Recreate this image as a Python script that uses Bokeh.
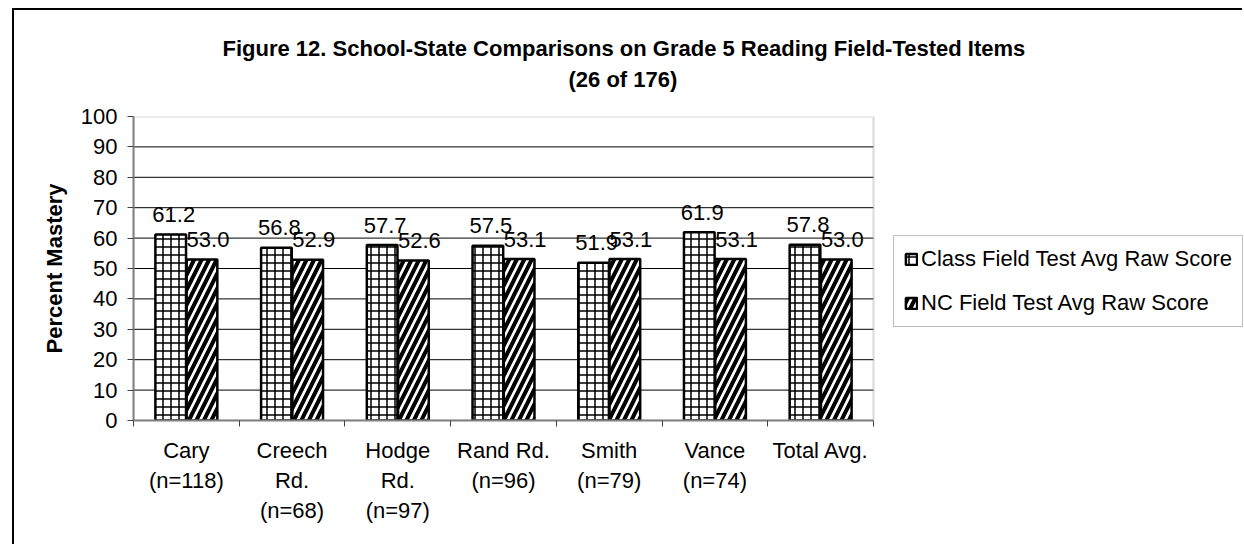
from bokeh.plotting import figure
from bokeh.models import (Range1d, FixedTicker, Legend, LegendItem, Title, ColumnDataSource,
                          BoxAnnotation)
from bokeh.core.properties import value
from bokeh.embed import file_html
from bokeh.resources import INLINE

# ---- data ----
categories = ["Cary\n(n=118)", "Creech\nRd.\n(n=68)", "Hodge\nRd.\n(n=97)",
              "Rand Rd.\n(n=96)", "Smith\n(n=79)", "Vance\n(n=74)", "Total Avg."]
class_scores = [61.2, 56.8, 57.7, 57.5, 51.9, 61.9, 57.8]
nc_scores = [53.0, 52.9, 52.6, 53.1, 53.1, 53.1, 53.0]
series_names = ["Class Field Test Avg Raw Score", "NC Field Test Avg Raw Score"]
y_ticks = list(range(0, 101, 10))
title_lines = ["Figure 12. School-State Comparisons on Grade 5 Reading Field-Tested Items",
               "(26 of 176)"]
y_title = "Percent Mastery"

FONT = "Liberation Sans"
FS = "22px"
n = len(categories)
centers = [i + 0.5 for i in range(n)]
bw = 0.29
off = 0.148

CANVAS_W, CANVAS_H = 1230, 536
LEFT, TOP, BOTTOM = 119, 106, 126
PLOT_W = 740                      # width of the 7 category slots in pixels
frame_w = CANVAS_W - LEFT
x_end = n * frame_w / PLOT_W      # frame extends right to hold the legend

p = figure(width=CANVAS_W, height=CANVAS_H, output_backend="svg", toolbar_location=None,
           x_range=Range1d(0, x_end), y_range=Range1d(0, 100),
           min_border_left=LEFT, min_border_right=0, min_border_top=TOP, min_border_bottom=BOTTOM)
p.styles = {"margin-left": "12px", "margin-top": "8px",
            "border-left": "2px solid black", "border-top": "2px solid black"}
p.background_fill_color = "white"
p.border_fill_color = "white"
p.outline_line_color = None

src = ColumnDataSource(dict(
    xc=[c - off for c in centers], xn=[c + off for c in centers],
    yc=class_scores, yn=nc_scores,
    lc=[f"{v:.1f}" for v in class_scores], ln=[f"{v:.1f}" for v in nc_scores]))

# grid lines across the plot area only
grid_y = y_ticks[1:-1]
p.segment(x0=[0] * len(grid_y), x1=[n] * len(grid_y), y0=grid_y, y1=grid_y,
          line_color="black", line_width=1)
# plot-area border
p.add_layout(BoxAnnotation(left=0, right=n, bottom=0, top=y_ticks[-1],
                           fill_alpha=0, line_color="#808080", line_width=2))

r1 = p.vbar(x="xc", top="yc", width=bw, source=src, fill_color="white",
            line_color="black", line_width=2.5,
            hatch_pattern="+", hatch_color="black", hatch_scale=8, hatch_weight=1.5)
r2 = p.vbar(x="xn", top="yn", width=bw, source=src, fill_color="white",
            line_color="black", line_width=2.5,
            hatch_pattern="/", hatch_color="black", hatch_scale=15, hatch_weight=4)

p.text(x="xc", y="yc", text="lc", source=src, text_align="center", text_baseline="alphabetic",
       x_offset=3, y_offset=-20, text_font=value(FONT), text_font_size=FS, text_color="black")
p.text(x="xn", y="yn", text="ln", source=src, text_align="center", text_baseline="alphabetic",
       x_offset=6, y_offset=-20, text_font=value(FONT), text_font_size=FS, text_color="black")

p.xgrid.visible = False
p.ygrid.visible = False

# y axis
ya = p.yaxis[0]
ya.ticker = FixedTicker(ticks=y_ticks)
ya.axis_line_color = "#808080"
ya.axis_line_width = 2
ya.major_tick_line_color = "#404040"
ya.major_tick_in = 0
ya.major_tick_out = 6
ya.minor_tick_line_color = None
ya.major_label_text_font = FONT
ya.major_label_text_font_size = FS
ya.major_label_text_color = "black"
ya.major_label_standoff = 10
ya.axis_label = y_title
ya.axis_label_text_font = FONT
ya.axis_label_text_font_size = FS
ya.axis_label_text_font_style = "bold"
ya.axis_label_text_color = "black"
ya.axis_label_standoff = 11

# x axis
xa = p.xaxis[0]
xa.bounds = (0, n)
xa.ticker = FixedTicker(ticks=centers, minor_ticks=list(range(n + 1)))
xa.major_label_overrides = {c: lab for c, lab in zip(centers, categories)}
xa.axis_line_color = "#808080"
xa.axis_line_width = 2
xa.major_tick_line_color = None
xa.major_tick_in = 0
xa.major_tick_out = 0
xa.minor_tick_line_color = "#404040"
xa.minor_tick_in = 0
xa.minor_tick_out = 6
xa.major_label_text_font = FONT
xa.major_label_text_font_size = FS
xa.major_label_text_color = "black"
xa.major_label_standoff = 11

# title (second line added first so it sits closest to the plot)
p.add_layout(Title(text=title_lines[1], align="left", offset=435, standoff=50,
                   text_font=FONT, text_font_size=FS, text_font_style="bold",
                   text_color="black"), "above")
p.add_layout(Title(text=title_lines[0], align="left", offset=89, standoff=-42,
                   text_font=FONT, text_font_size=FS, text_font_style="bold",
                   text_color="black"), "above")

legend = Legend(items=[LegendItem(label=series_names[0], renderers=[r1]),
                       LegendItem(label=series_names[1], renderers=[r2])],
                location=(760, 93), orientation="vertical",
                glyph_width=14, glyph_height=14, label_height=22, spacing=18,
                padding=10, margin=0, label_standoff=3,
                label_text_font=FONT, label_text_font_size=FS, label_text_color="black",
                border_line_color="#808080", border_line_width=1.5,
                background_fill_color="white", background_fill_alpha=1)
p.add_layout(legend, "center")

open("out.html", "w").write(file_html(p, INLINE))
